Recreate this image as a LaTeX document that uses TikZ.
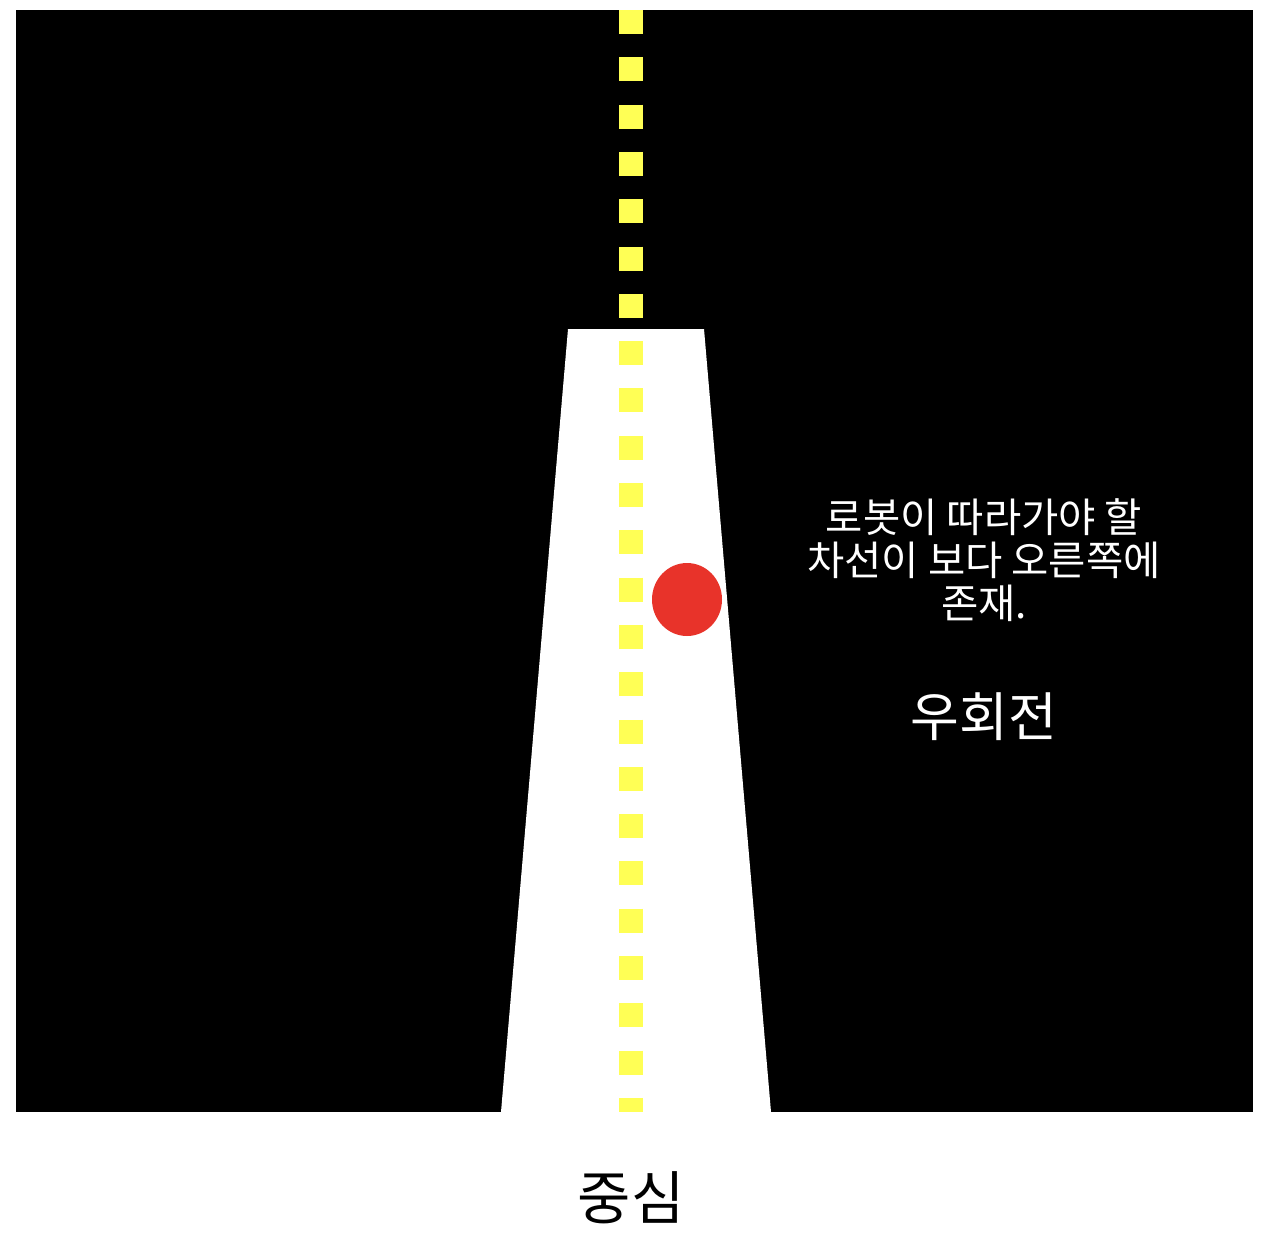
\documentclass[tikz,border=0pt]{standalone}
\usepackage{fontspec}
\setmainfont{Noto Sans CJK KR}
\usetikzlibrary{positioning}

\definecolor{laneyellow}{RGB}{255,255,85}
\definecolor{robotred}{RGB}{232,51,42}

\tikzset{
  note/.style={text=white,align=center,font=\fontsize{40.5}{43}\selectfont,inner sep=0pt},
  bignote/.style={text=white,font=\fontsize{53}{56}\selectfont,inner sep=0pt},
  caption/.style={text=black,font=\fontsize{58}{62}\selectfont,inner sep=0pt}
}

\begin{document}
\begin{tikzpicture}[x=1pt,y=-1pt]
            \useasboundingbox (0,0) rectangle (1276,1234);

            % Background field
            \fill[black] (16,10) rectangle (1253,1112);

            % Lane seen by the camera
            \fill[white] (568,329) -- (704,329) -- (771,1112) -- (501,1112) -- cycle;

            % Centre line
            \draw[laneyellow,line width=24pt,dash pattern=on 24pt off 23.3pt] (631,10) -- (631,1112);

            % Robot position
            \fill[robotred] (687,599.5) ellipse (35 and 36.5);

            % Texts
            \node[note] (lanetext) at (984,560) {로봇이 따라가야 할\\차선이 보다 오른쪽에\\존재.};
            \node[bignote] (turntext) at (984,717) {우회전};
            \node[caption] (centretext) at (631,1198) {중심};

        \end{tikzpicture}
\end{document}
